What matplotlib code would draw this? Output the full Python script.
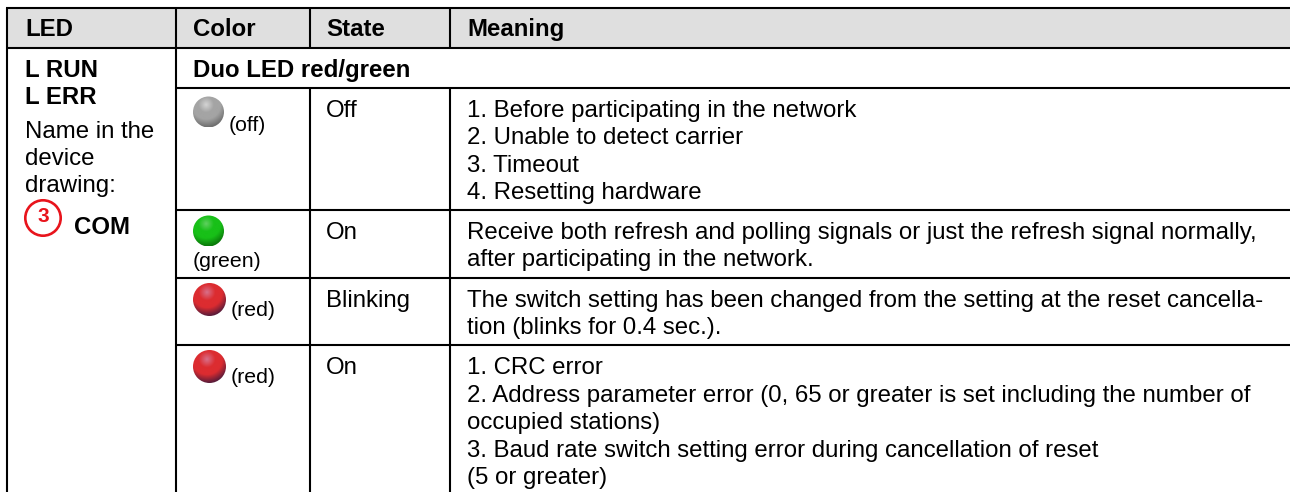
import matplotlib
matplotlib.use('Agg')
import matplotlib.pyplot as plt
import numpy as np
from matplotlib.patches import Circle, Rectangle

plt.rcParams['font.family'] = ['Liberation Sans', 'DejaVu Sans']

# table grid, in pixels of the 1290x492 page
col_x = [7, 176, 310, 450]
row_y = [8, 48, 88, 210, 278, 345]

header = ['LED', 'Color', 'State', 'Meaning']
header_pos = [25, 193, 326, 467]

led_bold = ['L RUN', 'L ERR']
led_bold_y = [76, 103]
led_note = ['Name in the', 'device', 'drawing:']
led_note_y = [137, 164, 191]

states = ['Off', 'On', 'Blinking', 'On']
states_y = [116, 238, 306, 373]

color_names = ['(off)', '(green)', '(red)', '(red)']
color_x = [229, 193, 231, 231]
color_y = [130, 266, 315, 382]

led_x = [208.5, 208.5, 209.5, 209.5]
led_y = [112, 231, 299.5, 366.5]
led_r = [15.5, 15.5, 16.5, 16.5]
led_light = ['#d4d4d4', '#60d060', '#d8708a', '#d8708a']
led_mid = ['#a4a4a4', '#18c018', '#dc2c30', '#dc2c30']
led_dark = ['#707070', '#0a7a0a', '#5a1c3a', '#5a1c3a']

meaning = ['1. Before participating in the network',
           '2. Unable to detect carrier',
           '3. Timeout',
           '4. Resetting hardware',
           'Receive both refresh and polling signals or just the refresh signal normally,',
           'after participating in the network.',
           'The switch setting has been changed from the setting at the reset cancella-',
           'tion (blinks for 0.4 sec.).',
           '1. CRC error',
           '2. Address parameter error (0, 65 or greater is set including the number of',
           'occupied stations)',
           '3. Baud rate switch setting error during cancellation of reset',
           '(5 or greater)']
meaning_y = [116, 143, 171, 198, 238, 265, 306, 333, 373, 401, 428, 456, 483]

FS = 17.3

fig = plt.figure(figsize=(12.9, 4.92), dpi=100)
ax = fig.add_axes([0, 0, 1, 1])
ax.set_xlim(0, 1290)
ax.set_ylim(492, 0)
ax.axis('off')

ax.add_patch(Rectangle((col_x[0], row_y[0]), 1290 - col_x[0], row_y[1] - row_y[0],
                       facecolor='#dfdfdf', edgecolor='none', zorder=0))

LW = 1.5
for y in [row_y[0], row_y[1]]:
    ax.plot([col_x[0] - 1, 1290], [y, y], color='black', lw=LW, solid_capstyle='butt')
for y in row_y[2:]:
    ax.plot([col_x[1], 1290], [y, y], color='black', lw=LW, solid_capstyle='butt')
ax.plot([col_x[0]] * 2, [row_y[0], 492], color='black', lw=LW, solid_capstyle='butt')
ax.plot([col_x[1]] * 2, [row_y[0], 492], color='black', lw=LW, solid_capstyle='butt')
for x in col_x[2:]:
    ax.plot([x, x], [row_y[0], row_y[1]], color='black', lw=LW, solid_capstyle='butt')
    ax.plot([x, x], [row_y[2], 492], color='black', lw=LW, solid_capstyle='butt')


def put(x, y, s, **kw):
    # +1: the baselines were read one pixel high
    ax.text(x, y + 1, s, fontsize=kw.pop('fontsize', FS), va='baseline', ha='left', color='black', **kw)


for s, x in zip(header, header_pos):
    put(x, 35, s, fontweight='bold')
for s, y in zip(led_bold, led_bold_y):
    put(25, y, s, fontweight='bold')
for s, y in zip(led_note, led_note_y):
    put(25, y, s)
put(74, 233, 'COM', fontweight='bold')
put(193, 76, 'Duo LED red/green', fontweight='bold')

ax.add_patch(Circle((43, 218), 17.7, facecolor='white', edgecolor='#e8141c', lw=1.9))
ax.text(43, 217, '3', fontsize=15, fontweight='bold', color='#e8141c', ha='center', va='center')

for s, y in zip(states, states_y):
    put(326, y, s)
for s, x, y in zip(color_names, color_x, color_y):
    put(x, y, s, fontsize=15.3)
for s, y in zip(meaning, meaning_y):
    put(467, y, s)

# shaded LED balls: gradient image clipped to a circle
gx, gy = np.meshgrid(np.linspace(-1, 1, 64), np.linspace(-1, 1, 64))
dist = np.clip(np.hypot(gx + 0.15, gy + 0.45) / 1.45, 0, 1)
for x, y, r, c0, c1, c2 in zip(led_x, led_y, led_r, led_light, led_mid, led_dark):
    cmap = matplotlib.colors.LinearSegmentedColormap.from_list(
        'led', [(0, c0), (0.35, c1), (0.65, c1), (1, c2)])
    im = ax.imshow(dist, cmap=cmap, extent=(x - r, x + r, y + r, y - r), vmin=0, vmax=1,
                   aspect='auto', zorder=3)
    im.set_clip_path(Circle((x, y), r, transform=ax.transData))
ax.set_xlim(0, 1290)
ax.set_ylim(492, 0)

fig.savefig('out.png', dpi=100)
